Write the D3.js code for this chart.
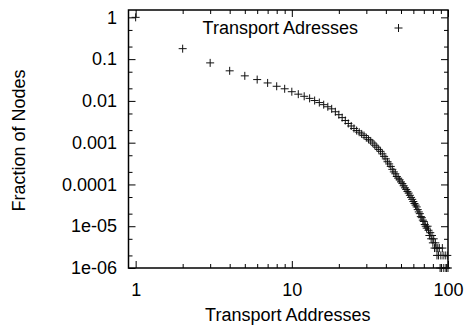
<!DOCTYPE html>
<html>
<head>
<meta charset="utf-8">
<script src="https://cdn.jsdelivr.net/npm/d3@7"></script>
<style>
  body { margin: 0; background: #fff; }
  svg { display: block; font-family: "Liberation Sans", Arial, sans-serif; }
</style>
</head>
<body>
<svg></svg>
<script>
const full_width = 464;
const full_height = 325;

// transport addresses per node (x) and fraction of nodes (y)
const addresses = [
  1, 2, 3, 4, 5, 6, 7, 8, 9, 10,
  11, 12, 13, 14, 15, 16, 17, 18, 19, 20,
  21, 22, 23, 24, 25, 26, 27, 28, 29, 30,
  31, 32, 33, 34, 35, 36, 37, 38, 39, 40,
  41, 42, 43, 44, 45, 46, 47, 48, 49, 50,
  51, 52, 53, 54, 55, 56, 57, 58, 59, 60,
  61, 62, 63, 64, 65, 66, 67, 68, 69, 70,
  71, 72, 73, 74, 75, 76, 77, 78, 79, 80,
  81, 82, 83, 84, 85, 86, 87, 88, 89, 90,
  91, 92, 93, 94, 96, 97, 98, 99, 100
];
const fraction = [
  1.0, 0.178, 0.0813, 0.0525, 0.0398, 0.0324, 0.0269, 0.0224, 0.0195, 0.0166,
  0.0145, 0.0129, 0.0115, 0.0102, 0.00912, 0.00813, 0.00724, 0.00646, 0.0055, 0.00468,
  0.00398, 0.00339, 0.00288, 0.00251, 0.00219, 0.00195, 0.00178, 0.00162, 0.00148, 0.00132,
  0.0012, 0.0011, 0.00098, 0.00087, 0.00078, 0.00069, 0.00062, 0.00054, 0.00047, 0.00041,
  0.00035, 0.00031, 0.00027, 0.00023, 0.0002, 0.00018, 0.000155, 0.000141, 0.000129, 0.000115,
  0.000105, 9.3e-5, 8.3e-5, 7.6e-5, 6.8e-5, 6.2e-5, 5.5e-5, 4.9e-5, 4.4e-5, 3.9e-5,
  3.5e-5, 3.2e-5, 2.9e-5, 2.5e-5, 2.2e-5, 2.0e-5, 1.7e-5, 1.6e-5, 1.4e-5, 1.3e-5,
  1.1e-5, 1.0e-5, 9e-6, 1.0e-5, 8e-6, 6e-6, 7e-6, 5e-6, 6e-6, 4e-6,
  5e-6, 3e-6, 4e-6, 3e-6, 2e-6, 3e-6, 2e-6, 3e-6, 1e-6, 2e-6,
  1e-6, 3e-6, 2e-6, 1e-6, 2e-6, 1e-6, 1e-6, 2e-6, 1e-6
];

const xTicks = [1, 10, 100];
const yTicks = [1, 0.1, 0.01, 0.001, 0.0001, 1e-5, 1e-6];
const yTickLabels = ["1", "0.1", "0.01", "0.001", "0.0001", "1e-05", "1e-06"];
const xMinor = [2, 3, 4, 5, 6, 7, 8, 9, 20, 30, 40, 50, 60, 70, 80, 90];
const yMinor = [0.5, 0.2, 0.05, 0.02, 0.005, 0.002, 5e-4, 2e-4, 5e-5, 2e-5, 5e-6, 2e-6];
const seriesName = "Transport Adresses";
const xAxisLabelText = "Transport Addresses";
const yAxisLabelText = "Fraction of Nodes";

const data = addresses.map((x, i) => ({ x, y: fraction[i] }));

const margin = { top: 10, right: 16, bottom: 57, left: 128.5 };
const innerWidth = full_width - margin.left - margin.right;
const innerHeight = full_height - margin.top - margin.bottom;

const svg = d3.select("svg").attr("width", full_width).attr("height", full_height);

const xScale = d3.scaleLog().domain([0.9, 100]).range([0, innerWidth]);
const yScale = d3.scaleLog().domain([1e-6, 1.5]).range([innerHeight, 0]);

const chart = svg.append("g").attr("transform", `translate(${margin.left},${margin.top})`);

const major = 7, minor = 4, fontSize = 18;

// bottom + top ticks
const xAxisB = chart.append("g").attr("transform", `translate(0,${innerHeight})`)
  .call(d3.axisBottom(xScale).tickValues(xTicks).tickFormat(d3.format("d"))
    .tickSize(-major).tickPadding(major + 8));
xAxisB.select(".domain").remove();
xAxisB.selectAll("text").attr("font-size", fontSize).attr("fill", "#000").attr("font-family", null);

chart.append("g").attr("transform", `translate(0,${innerHeight})`)
  .call(d3.axisBottom(xScale).tickValues(xMinor).tickFormat("").tickSize(-minor))
  .select(".domain").remove();
chart.append("g")
  .call(d3.axisTop(xScale).tickValues(xTicks).tickFormat("").tickSize(-major))
  .select(".domain").remove();
chart.append("g")
  .call(d3.axisTop(xScale).tickValues(xMinor).tickFormat("").tickSize(-minor))
  .select(".domain").remove();

// left + right ticks
const yAxisL = chart.append("g")
  .call(d3.axisLeft(yScale).tickValues(yTicks).tickFormat((d, i) => yTickLabels[i])
    .tickSize(-major).tickPadding(major + 4.5));
yAxisL.select(".domain").remove();
yAxisL.selectAll("text").attr("font-size", fontSize).attr("fill", "#000").attr("font-family", null);

chart.append("g")
  .call(d3.axisLeft(yScale).tickValues(yMinor).tickFormat("").tickSize(-minor))
  .select(".domain").remove();
chart.append("g").attr("transform", `translate(${innerWidth},0)`)
  .call(d3.axisRight(yScale).tickValues(yTicks).tickFormat("").tickSize(-major))
  .select(".domain").remove();
chart.append("g").attr("transform", `translate(${innerWidth},0)`)
  .call(d3.axisRight(yScale).tickValues(yMinor).tickFormat("").tickSize(-minor))
  .select(".domain").remove();

chart.selectAll(".tick line").attr("stroke", "#000").attr("stroke-width", 1);

// frame
chart.append("rect")
  .attr("width", innerWidth)
  .attr("height", innerHeight)
  .attr("fill", "none")
  .attr("stroke", "#000")
  .attr("stroke-width", 1.5);

// points
const plus = (g, s) => g.attr("d", `M${-s},0H${s}M0,${-s}V${s}`);

chart.append("g")
  .selectAll("path")
  .data(data)
  .enter()
  .append("path")
  .attr("transform", (d) => `translate(${xScale(d.x)},${yScale(d.y)})`)
  .call(plus, 4)
  .attr("fill", "none")
  .attr("stroke", "#111")
  .attr("stroke-width", 1);

// legend
chart.append("text")
  .attr("x", 358 - margin.left)
  .attr("y", 34 - margin.top)
  .attr("text-anchor", "end")
  .attr("font-size", fontSize)
  .text(seriesName);
chart.append("path")
  .attr("transform", `translate(${398.5 - margin.left},${28 - margin.top})`)
  .call(plus, 4)
  .attr("fill", "none")
  .attr("stroke", "#111")
  .attr("stroke-width", 1);

// axis labels
svg.append("text")
  .attr("x", margin.left + xScale(10) - 4)
  .attr("y", 320.5)
  .attr("text-anchor", "middle")
  .attr("font-size", fontSize)
  .text(xAxisLabelText);

svg.append("text")
  .attr("transform", "translate(25,140.5) rotate(-90)")
  .attr("text-anchor", "middle")
  .attr("font-size", fontSize)
  .text(yAxisLabelText);
</script>
</body>
</html>
